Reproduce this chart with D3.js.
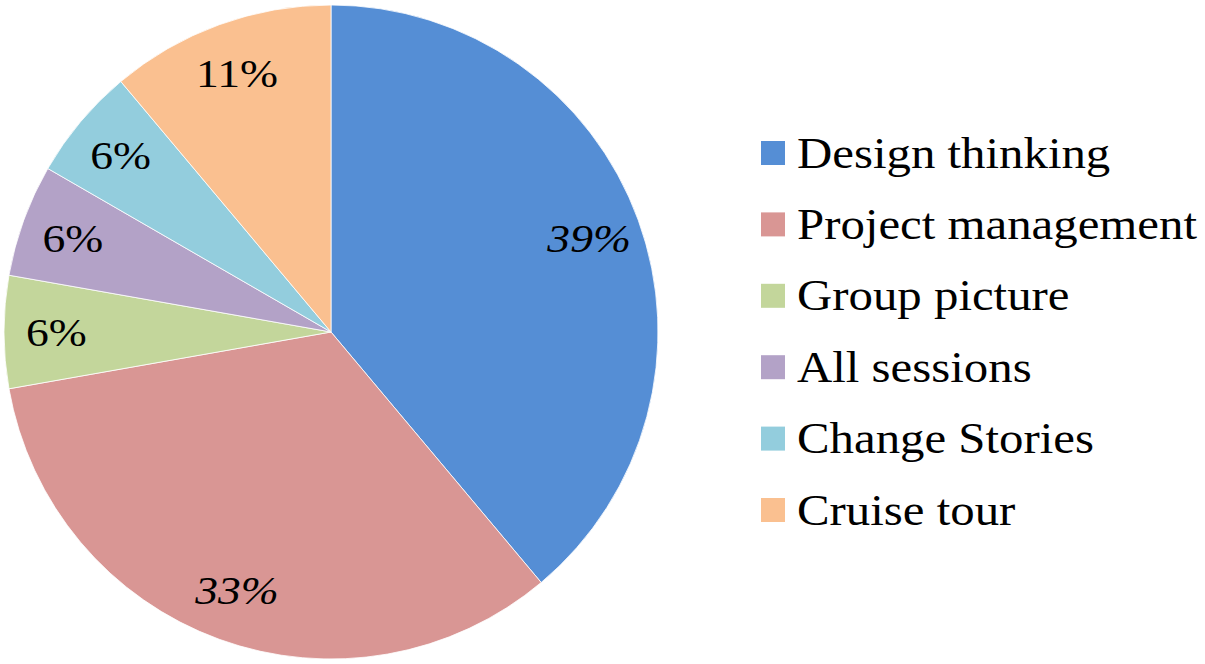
<!DOCTYPE html>
<html><head><meta charset="utf-8">
<script src="https://cdn.jsdelivr.net/npm/d3@7"></script>
<style>body{margin:0;background:#fff}svg{display:block}</style>
</head><body>
<svg id="c" width="1205" height="664"></svg>
<script>
const categories = ["Design thinking","Project management","Group picture","All sessions","Change Stories","Cruise tour"];
const values = [7, 6, 1, 1, 1, 2];
const labels = ["39%","33%","6%","6%","6%","11%"];
const italicLabels = [true, true, false, false, false, false];
const colors = ["#558ED5","#D99694","#C3D69B","#B3A2C7","#93CDDD","#FAC090"];

const FONT = '"Liberation Serif"';
const svg = d3.select("#c");
const cx = 331, cy = 332, R = 327;
const g = svg.append("g").attr("transform", `translate(${cx},${cy})`);
const pie = d3.pie().sort(null).value(d => d)(values);
const arc = d3.arc().innerRadius(0).outerRadius(R);
const labelArc = d3.arc().innerRadius(R*0.84).outerRadius(R*0.84);

g.selectAll("path").data(pie).join("path")
  .attr("d", arc).attr("fill", (d,i) => colors[i])
  .attr("stroke", "#fff").attr("stroke-width", 0.8);

g.selectAll("text").data(pie).join("text")
  .attr("transform", d => `translate(${labelArc.centroid(d)}) scale(1.14,1)`)
  .attr("text-anchor", "middle").attr("dominant-baseline", "central")
  .style("font-family", FONT).attr("font-size", 40)
  .style("font-style", (d,i) => italicLabels[i] ? "italic" : "normal")
  .attr("fill", "#000")
  .text((d,i) => labels[i]);

const ly = d3.scalePoint().domain(categories).range([153, 510]);
const leg = svg.append("g");
const rows = leg.selectAll("g").data(categories).join("g")
  .attr("transform", d => `translate(761,${ly(d)})`);
rows.append("rect").attr("x", 0).attr("y", -12).attr("width", 24).attr("height", 24)
  .attr("fill", (d,i) => colors[i]);
rows.append("text").attr("transform", "translate(36,0) scale(1.11,1)").attr("dominant-baseline", "central")
  .style("font-family", FONT).attr("font-size", 44).attr("fill", "#000")
  .text(d => d);
</script>
</body></html>
